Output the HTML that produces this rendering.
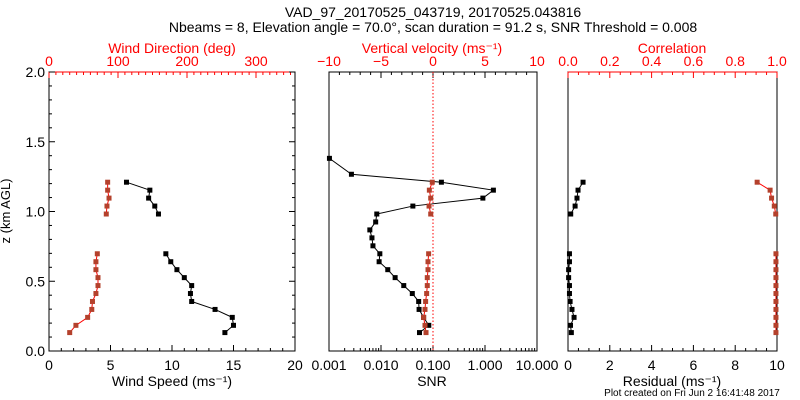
<!DOCTYPE html>
<html><head><meta charset="utf-8"><style>
html,body{margin:0;padding:0;background:#fff}
svg{display:block;font-family:"Liberation Sans",sans-serif}
</style></head><body>
<svg id="c" width="800" height="400" viewBox="0 0 800 400" xmlns="http://www.w3.org/2000/svg">
<text x="433" y="17" font-size="14" text-anchor="middle">VAD_97_20170525_043719, 20170525.043816</text>
<text x="433" y="32" font-size="14" text-anchor="middle">Nbeams = 8, Elevation angle = 70.0°, scan duration = 91.2 s, SNR Threshold = 0.008</text>
<text x="10" y="211" font-size="13" text-anchor="middle" transform="rotate(-90 10 211)">z (km AGL)</text>
<text x="692" y="396" font-size="10" text-anchor="middle">Plot created on Fri Jun  2 16:41:48 2017</text>
<g id="g"></g>
</svg>
<script>
// heights (km)
const zWind = [1.21,1.153,1.096,1.039,0.982,0.697,0.64,0.583,0.526,0.469,0.412,0.355,0.298,0.241,0.184,0.132];
const windSpeed = [6.3,8.2,8.1,8.6,8.9,9.5,9.9,10.4,11.0,11.6,11.5,11.6,13.5,14.9,15.0,14.3];
const windDir = [85,85,87,84,83,70,68,68,71,71,68,63,62,56,39,30];
const zSnr = [1.381,1.267,1.21,1.153,1.096,1.039,0.982,0.925,0.868,0.811,0.754,0.697,0.64,0.583,0.526,0.469,0.412,0.355,0.298,0.241,0.184,0.132];
const snr = [0.00102,0.0027,0.145,1.45,0.91,0.041,0.0083,0.0079,0.0061,0.0067,0.0070,0.0095,0.0092,0.0135,0.0187,0.0274,0.040,0.053,0.054,0.066,0.083,0.055];
const vertVel = [-0.07,-0.35,-0.22,-0.38,-0.22,-0.42,-0.48,-0.48,-0.55,-0.55,-0.61,-0.71,-0.77,-0.90,-0.77,-0.67];
const residual = [0.72,0.48,0.43,0.34,0.13,0.07,0.07,0.03,0.03,0.07,0.07,0.10,0.19,0.29,0.12,0.16];
const correlation = [0.905,0.967,0.974,0.987,0.994,0.995,0.995,0.995,0.995,0.995,0.995,0.995,0.995,0.995,0.995,0.995];
const speedTicks = ["0","5","10","15","20"];
const dirTicks = ["0","100","200","300"];
const snrTicks = ["0.001","0.010","0.100","1.000","10.000"];
const velTicks = ["\u221210","\u22125","0","5","10"];
const resTicks = ["0","2","4","6","8","10"];
const corTicks = ["0.0","0.2","0.4","0.6","0.8","1.0"];
const zTicks = ["0.0","0.5","1.0","1.5","2.0"];

const NS="http://www.w3.org/2000/svg", G=document.getElementById('g');
const T=72,B=351;
const y=z=>B-(z/2)*(B-T);
function el(t,a,p){const e=document.createElementNS(NS,t);for(const k in a)e.setAttribute(k,a[k]);(p||G).appendChild(e);return e;}
const RED="#ff0000", MRK="#b4412c";
function lin(x0,x1,a,b){return v=>x0+(v-a)/(b-a)*(x1-x0);}
function line(x1,y1,x2,y2,c,w,d){return el('line',{x1,y1,x2,y2,stroke:c,'stroke-width':w||1,'stroke-dasharray':d||'none'});}
function txt(x,yy,s,c,sz,anc){const t=el('text',{x,y:yy,fill:c,'font-size':sz||14,'text-anchor':anc||'middle'});t.textContent=s;return t;}

function hAxis(sx,lo,hi,minor,major,labels,yy,dir,c){
  for(let v=lo;v<=hi+1e-9;v+=minor){const m=Math.abs(Math.round(v/major)*major-v)<1e-6;line(sx(v),yy,sx(v),yy+dir*(m?6:3),c);}
  labels.forEach((s,i)=>{const v=lo+i*major;if(v<=hi+1e-9){txt(sx(v),dir>0?66:370,s,c);}});
}
function panel(x0,x1){
  el('rect',{x:x0,y:T,width:x1-x0,height:B-T,fill:'none',stroke:'#000','stroke-width':1});
}
function series(sx,xs,zs,lc,mc,name){
  const pts=xs.map((v,i)=>[sx(v),y(zs[i])]);
  let seg=[pts[0]];const segs=[seg];
  for(let i=1;i<pts.length;i++){if(Math.abs(zs[i]-zs[i-1])>0.1&&name!=='snr'){seg=[pts[i]];segs.push(seg);}else seg.push(pts[i]);}
  segs.forEach(s=>{const p=el('polyline',{points:s.map(q=>q.join(',')).join(' '),fill:'none',stroke:lc,'stroke-width':1});
    
    });
  pts.forEach((q,i)=>{const r=el('rect',{x:q[0]-2.5,y:q[1]-2.5,width:5,height:5,fill:mc});
    
    });
}

// left panel
const L0=49,L1=295;
panel(L0,L1);
const sSpd=lin(L0,L1,0,20), sDir=lin(L0,L1,0,356.5);
hAxis(sSpd,0,20,1,5,speedTicks,B,-1,'#000');
for(let v=0;v<=350;v+=10){const m=v%100===0;line(sDir(v),T,sDir(v),T+(m?6:3),RED);}
dirTicks.forEach((s,i)=>txt(sDir(i*100),66,s,RED));
line(L0,T,L1,T,RED);
for(let i=0;i<=20;i++){const z=i*0.1,m=i%5===0;line(L0,y(z),L0+(m?6:3),y(z),'#000');line(L1,y(z),L1-(m?6:3),y(z),'#000');}
zTicks.forEach((s,i)=>txt(L0-4,y(i*0.5)+5,s,'#000',14,'end'));
txt(172,53,'Wind Direction (deg)',RED);
txt(172,386,'Wind Speed (ms\u207B\u00B9)','#000');
series(sSpd,windSpeed,zWind,'#000','#000','wind-speed');
series(sDir,windDir,zWind,RED,MRK,'wind-direction');

// middle panel
const M0=329,M1=537;
panel(M0,M1);
const sLog=v=>M0+(Math.log10(v)+3)/4*(M1-M0), sVel=lin(M0,M1,-10,10);
for(let d=-3;d<1;d++)for(let k=1;k<10;k++){const v=k*Math.pow(10,d);line(sLog(v),B,sLog(v),B-(k===1?6:3),'#000');}
line(M1,B,M1,B-6,'#000');
snrTicks.forEach((s,i)=>txt(sLog(Math.pow(10,i-3)),370,s,'#000'));
for(let v=-10;v<=10;v++){const m=v%5===0;line(sVel(v),T,sVel(v),T+(m?6:3),'#000');}
velTicks.forEach((s,i)=>txt(sVel(-10+5*i),66,s,RED));
line(sVel(0),T,sVel(0),B,RED,1,'1.5,2');
txt(432,386,'SNR','#000');
txt(432,53,'Vertical velocity (ms\u207B\u00B9)',RED);
series(sLog,snr,zSnr,'#000','#000','snr');
series(sVel,vertVel,zWind,RED,MRK,'vertical-velocity');

// right panel
const R0=568,R1=777;
panel(R0,R1);
const sRes=lin(R0,R1,0,10), sCor=lin(R0,R1,0,1);
hAxis(sRes,0,10,0.5,2,resTicks,B,-1,'#000');
for(let i=0;i<=20;i++){const v=i*0.05,m=i%4===0;line(sCor(v),T,sCor(v),T+(m?6:3),RED);}
corTicks.forEach((s,i)=>txt(sCor(i*0.2),66,s,RED));
line(R0,T,R1,T,RED);
txt(672,53,'Correlation',RED);
txt(672,386,'Residual (ms\u207B\u00B9)','#000');
series(sRes,residual,zWind,'#000','#000','residual');
series(sCor,correlation,zWind,RED,MRK,'correlation');
</script>
</body></html>
